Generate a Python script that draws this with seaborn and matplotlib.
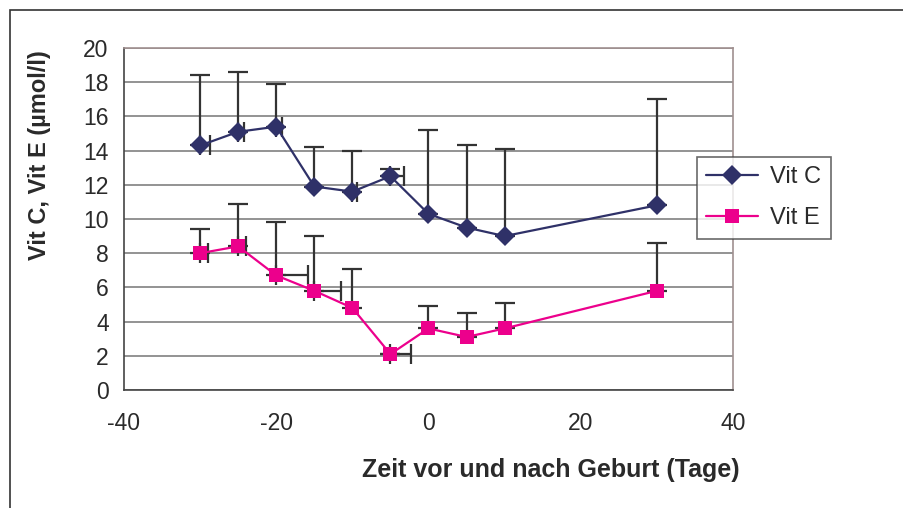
import numpy as np
import pandas as pd
import matplotlib
matplotlib.use("Agg")
import matplotlib.pyplot as plt
import seaborn as sns
from matplotlib.patches import Rectangle

# Tage relativ zur Geburt
tage = [-30, -25, -20, -15, -10, -5, 0, 5, 10, 30]

vit_c = [14.3, 15.1, 15.4, 11.9, 11.6, 12.5, 10.3, 9.5, 9.0, 10.8]
vit_c_top = [18.4, 18.6, 17.9, 14.2, 14.0, 12.9, 15.2, 14.3, 14.1, 17.0]
vit_c_xerr = [1.3, 0.8, 0.7, 0.0, 0.65, 1.75, 0.0, 0.0, 0.0, 0.0]

vit_e = [8.0, 8.4, 6.7, 5.8, 4.8, 2.1, 3.6, 3.1, 3.6, 5.8]
vit_e_top = [9.4, 10.9, 9.8, 9.0, 7.1, 2.1, 4.9, 4.5, 5.1, 8.6]
vit_e_xerr = [1.1, 1.0, 4.2, 3.5, 0.0, 2.7, 0.0, 0.0, 0.0, 0.0]

farbe_c = "#2f3168"
farbe_e = "#ec008c"
fehler = "#333333"
text = "#2a2a2a"

df = pd.DataFrame({
    "Tag": tage * 2,
    "Wert": vit_c + vit_e,
    "Serie": ["Vit C"] * len(tage) + ["Vit E"] * len(tage),
})

sns.set_style("white")
plt.rcParams["font.family"] = ["Liberation Sans Narrow", "Liberation Sans", "DejaVu Sans"]
plt.rcParams["axes.unicode_minus"] = False

fig = plt.figure(figsize=(9.04, 5.08), dpi=100)
ax = fig.add_axes([124 / 904, 1 - 390 / 508, (733 - 124) / 904, (390 - 48) / 508])

# aeusserer Diagrammrahmen
fig.patches.append(Rectangle((10 / 904, -0.1), 1.2, 1.1 - 10 / 508,
                             transform=fig.transFigure, fill=False,
                             edgecolor="#333333", linewidth=1.2))

for y, top, xe in [(vit_c, vit_c_top, vit_c_xerr), (vit_e, vit_e_top, vit_e_xerr)]:
    y = np.array(y)
    yerr = np.vstack([np.zeros(len(y)), np.array(top) - y])
    xerr = np.vstack([np.zeros(len(y)), np.array(xe)])
    ax.errorbar(tage, y, yerr=yerr, fmt="none", ecolor=fehler, elinewidth=1.6,
                capsize=7, capthick=1.6, zorder=2)
    m = np.array(xe) > 0
    ax.errorbar(np.array(tage)[m], y[m], xerr=xerr[:, m], fmt="none", ecolor=fehler,
                elinewidth=1.6, capsize=7, capthick=1.6, zorder=2)

sns.lineplot(data=df, x="Tag", y="Wert", hue="Serie", style="Serie",
             palette={"Vit C": farbe_c, "Vit E": farbe_e},
             markers={"Vit C": "D", "Vit E": "s"}, dashes=False,
             markersize=10, markeredgewidth=0, linewidth=1.6, ax=ax, zorder=3)

ax.set_xlim(-40, 40)
ax.set_ylim(0, 20)
ax.set_xticks(range(-40, 41, 20))
ax.set_yticks(range(0, 21, 2))
ax.yaxis.grid(True, color="#808080", linewidth=1.2)
ax.set_axisbelow(True)
for s in ["top", "right"]:
    ax.spines[s].set_color("#a09090")
    ax.spines[s].set_linewidth(1.2)
for s in ["left", "bottom"]:
    ax.spines[s].set_color("#444444")
    ax.spines[s].set_linewidth(1.2)
ax.tick_params(axis="y", direction="inout", length=10, width=1, color="#444444",
               labelsize=16.5, labelcolor=text, pad=6)
ax.tick_params(axis="x", direction="out", length=6, width=1, color="#444444",
               labelsize=16.5, labelcolor=text, pad=10)
ax.set_xlabel("")
ax.set_ylabel("")

fig.text(40 / 904, 1 - 155 / 508, "Vit C, Vit E (µmol/l)", rotation=90,
         ha="center", va="center", fontsize=17, fontweight="bold", color=text)
fig.text(551 / 904, 1 - 470 / 508, "Zeit vor und nach Geburt (Tage)",
         ha="center", va="center", fontsize=18, fontweight="bold", color=text)

leg = ax.legend(loc="upper left", bbox_to_anchor=(697 / 904, 1 - 157 / 508),
                bbox_transform=fig.transFigure, frameon=True, fancybox=False,
                borderaxespad=0, fontsize=17, handlelength=2.2, borderpad=0.4,
                labelspacing=0.8, handletextpad=0.5)
leg.get_frame().set_edgecolor("#444444")
leg.get_frame().set_linewidth(1.2)
for t in leg.get_texts():
    t.set_color(text)

fig.savefig("out.png", dpi=100)
